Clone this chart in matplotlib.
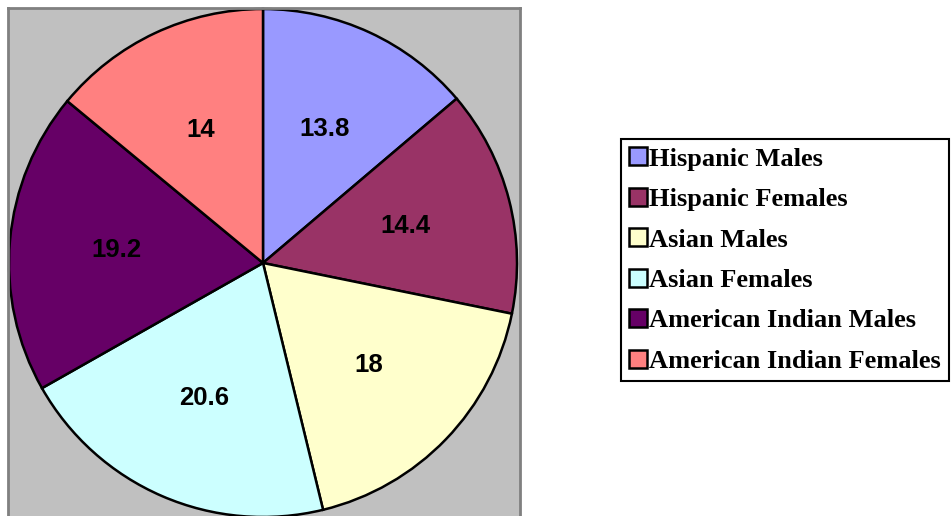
#!/usr/bin/env python3

import matplotlib
matplotlib.use('Agg')
from matplotlib import pyplot as plt

groups = ['Hispanic Males', 'Hispanic Females', 'Asian Males',
          'Asian Females', 'American Indian Males', 'American Indian Females']
values = [13.8, 14.4, 18, 20.6, 19.2, 14]
colors = ['#9999FF', '#993366', '#FFFFCC', '#CCFFFF', '#660066', '#FF8080']

W, H = 951, 516
fig = plt.figure(figsize=(W / 100, H / 100), dpi=100)

# plot area, runs off the bottom edge like the original
ax = fig.add_axes((8 / W, -4 / H, 512 / W, 512 / H))

wedges, _, pct = ax.pie(values, colors=colors, startangle=90, counterclock=False,
                        autopct=lambda p: f'{p:.3g}', pctdistance=0.58, frame=True,
                        wedgeprops=dict(edgecolor='black', linewidth=1.8),
                        textprops=dict(fontsize=18.5, fontweight='bold',
                                       family='Liberation Sans'))
ax.set_facecolor('#C0C0C0')
for s in ax.spines.values():
    s.set_color('#808080')
    s.set_linewidth(2)
ax.set_aspect('equal')
ax.set_xlim(-255 / 254, 257 / 254)
ax.set_ylim(-257 / 254, 255 / 254)
ax.set_xticks([])
ax.set_yticks([])

leg = fig.legend(wedges, groups, loc='upper left',
                 bbox_to_anchor=(621 / W, 1 - 139 / H), borderaxespad=0,
                 prop=dict(family='Liberation Serif', weight='bold', size=19),
                 handlelength=0.65, handleheight=0.65, handletextpad=0.1,
                 labelspacing=0.66, borderpad=0.32, fancybox=False,
                 edgecolor='black', framealpha=1)
leg.get_frame().set_linewidth(1.5)

fig.savefig('out.png', dpi=100)
